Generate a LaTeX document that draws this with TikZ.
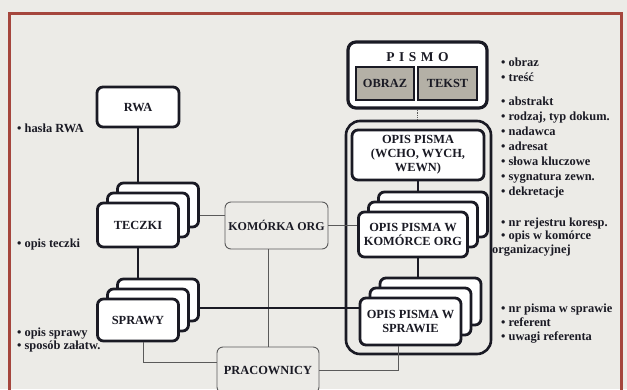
\documentclass[tikz,border=0pt]{standalone}
\usepackage{fontspec}
\setmainfont{Liberation Serif}
\definecolor{bg}{HTML}{ECEBE7}
\definecolor{framecol}{HTML}{A5463D}
\definecolor{ink}{HTML}{1A1A24}
\definecolor{boxgray}{HTML}{B4B0A6}
\definecolor{thincol}{HTML}{5A5A5A}
\begin{document}
\begin{tikzpicture}[x=1pt,y=-1pt,
  every node/.style={font=\bfseries\fontsize{12.4}{14}\selectfont, text=ink, inner sep=0pt},
  boxthick/.style={draw=ink, line width=2.8pt, rounded corners=6pt, fill=white, align=center},
  boxthin/.style={draw=thincol, line width=0.9pt, rounded corners=6pt, fill=bg, align=center},
  graybox/.style={draw=ink, line width=2.6pt, fill=boxgray},
  thickline/.style={draw=ink, line width=2.6pt},
  thinline/.style={draw=thincol, line width=0.9pt},
  note/.style={anchor=base west},
  tk/.style={boxthick, minimum width=81pt, minimum height=44pt},
  sp/.style={boxthick, minimum width=81pt, minimum height=42pt},
  ok/.style={boxthick, minimum width=109pt, minimum height=45pt},
  os/.style={boxthick, minimum width=101pt, minimum height=47pt}]
\fill[bg] (0,0) rectangle (627,389);
\useasboundingbox (0,0) rectangle (627,389);
\clip (0,0) rectangle (627,389);
\draw[framecol, line width=3pt] (9,420) -- (9,13) -- (621,13) -- (621,420);

% left column
\node[boxthick, minimum width=82pt, minimum height=40pt] (rwa) at (138,107) {RWA};
\node[tk] (teczki3) at (158,205) {};
\node[tk] (teczki2) at (148,215) {};
\node[tk] (teczki) at (138,225) {TECZKI};
\node[sp] (sprawy3) at (158,300) {};
\node[sp] (sprawy2) at (148,310) {};
\node[sp] (sprawy) at (138,320) {SPRAWY};

% middle
\node[boxthin, minimum width=103pt, minimum height=47pt, font=\bfseries\fontsize{12}{14}\selectfont] (komorka) at (276.5,225.5) {KOMÓRKA ORG};
\node[boxthin, minimum width=102pt, minimum height=46pt] (pracownicy) at (268,370) {PRACOWNICY};

% right column
\node[draw=ink, line width=2.6pt, rounded corners=14pt, minimum width=145pt, minimum height=233pt] (cont) at (418.5,237.5) {};
\node[boxthick, line width=3.2pt, rounded corners=8pt, minimum width=139pt, minimum height=66pt] (pismo) at (417.5,75) {};
\node (pismolabel) at (417.5,57) {\fontsize{13.5}{14}\selectfont P\kern4.5pt I\kern4.5pt S\kern4.5pt M\kern4.5pt O};
\node[graybox, minimum width=58pt, minimum height=33pt] (obraz) at (385,83.5) {OBRAZ};
\node[graybox, minimum width=59pt, minimum height=33pt] (tekst) at (447.5,83.5) {TEKST};
\node[boxthick, minimum width=132pt, minimum height=50pt] (opis) at (418,155) {OPIS PISMA\\(WCHO, WYCH,\\WEWN)};
\node[ok] (opk3) at (433,214.5) {};
\node[ok] (opk2) at (423,224.5) {};
\node[ok] (opk) at (413,234.5) {OPIS PISMA W\\KOMÓRCE ORG};
\node[os] (ops3) at (430.5,301.5) {};
\node[os] (ops2) at (420.5,311.5) {};
\node[os] (ops) at (410.5,321.5) {OPIS PISMA W\\SPRAWIE};

% connectors
\draw[thickline] (rwa.south) -- (rwa.south |- teczki3.north);
\draw[thickline] (teczki.south) -- (teczki.south |- sprawy3.north);
\draw[thinline] ([yshift=-10pt]teczki3.east) -- ([yshift=-10pt]teczki3.east -| komorka.west);
\draw[thinline] (komorka.east) -- (komorka.east -| opk.west);
\draw[thinline] (pracownicy.north) -- (pracownicy.north |- komorka.south);
\draw[thickline] ([yshift=-8pt]sprawy3.east) -- ([yshift=-8pt]sprawy3.east -| ops.west);
\draw[thinline] ([xshift=5pt]sprawy.south) |- ([yshift=8pt]pracownicy.west);
\draw[thinline] (pracownicy.east) -| ([xshift=-12pt]ops.south);
\draw[thinline, densely dotted] (pismo.south) -- (pismo.south |- cont.north);
\draw[thickline] (opis.south) -- (opis.south |- opk3.north);
\draw[thickline] (opis.south |- opk.south) -- (opis.south |- ops3.north);

% notes left
\node[note] (l1) at (17,132) {• hasła RWA};
\node[note] (l2) at (17,247) {• opis teczki};
\node[note] (l3) at (17,336) {• opis sprawy};
\node[note] (l4) at (17,349) {• sposób załatw.};

% notes right
\node[note] (r1) at (501,66) {• obraz};
\node[note] (r2) at (501,81) {• treść};
\node[note] (r3) at (501,105) {• abstrakt};
\node[note] (r4) at (501,120) {• rodzaj, typ dokum.};
\node[note] (r5) at (501,135) {• nadawca};
\node[note] (r6) at (501,150) {• adresat};
\node[note] (r7) at (501,165) {• słowa kluczowe};
\node[note] (r8) at (501,180) {• sygnatura zewn.};
\node[note] (r9) at (501,195) {• dekretacje};
\node[note] (r10) at (501,226) {• nr rejestru koresp.};
\node[note] (r11) at (501,239.5) {• opis w komórce};
\node[note] (r12) at (492,253) {organizacyjnej};
\node[note] (r13) at (501,312) {• nr pisma w sprawie};
\node[note] (r14) at (501,326) {• referent};
\node[note] (r15) at (501,340) {• uwagi referenta};
\end{tikzpicture}
\end{document}
